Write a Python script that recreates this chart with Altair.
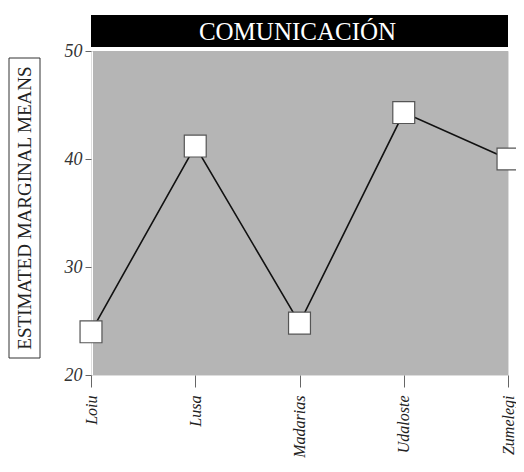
import altair as alt
import pandas as pd

centros = ["Loiu", "Lusa", "Madarias", "Udaloste", "Zumelegi"]
medias = [24.0, 41.2, 24.8, 44.3, 40.0]
titulo = "COMUNICACIÓN"
eje_y = "ESTIMATED MARGINAL MEANS"
y_ticks = [20, 30, 40, 50]

W, H = 417, 324
FONT = "Liberation Serif"

df = pd.DataFrame({"Centro": centros, "Media": medias})

x_enc = alt.X("Centro:N", sort=centros,
              scale=alt.Scale(type="point", padding=0),
              axis=alt.Axis(title=None, labelAngle=270, labelFont=FONT, labelFontStyle="italic",
                            labelFontSize=16, labelColor="#222", domain=False,
                            tickColor="#666", tickSize=12, labelPadding=8, grid=False,
                            labelLimit=200))
y_enc = alt.Y("Media:Q", scale=alt.Scale(domain=[20, 50], nice=False, zero=False),
              axis=alt.Axis(title=None, values=y_ticks, labelFont=FONT, labelFontStyle="italic",
                            labelFontSize=18, labelColor="#333", domain=False, grid=False,
                            tickColor="#666", tickSize=6, labelPadding=3))

one = pd.DataFrame({"t": [titulo]})
bg = alt.Chart(one).mark_rect(color="#b5b5b5").encode(
    x=alt.value(2), x2=alt.value(W), y=alt.value(0), y2=alt.value(H))

base = alt.Chart(df)
line = base.mark_line(color="#111", strokeWidth=1.6).encode(x=x_enc, y=y_enc)
pts = base.mark_point(shape="square", size=480, filled=True, fill="white", stroke="#555",
                      strokeWidth=1.2, opacity=1).encode(x=x_enc, y=y_enc)

bar = alt.Chart(one).mark_rect(color="black").encode(
    x=alt.value(0), x2=alt.value(W), y=alt.value(-36), y2=alt.value(-4))
ttxt = alt.Chart(one).mark_text(font=FONT, fontSize=25, color="white").encode(
    text="t:N", x=alt.value(W / 2 - 2), y=alt.value(-19))

one2 = pd.DataFrame({"t": [eje_y]})
box = alt.Chart(one2).mark_rect(fill="white", stroke="#333", strokeWidth=1).encode(
    x=alt.value(-82), x2=alt.value(-51), y=alt.value(7), y2=alt.value(307))
ytxt = alt.Chart(one2).mark_text(font=FONT, fontSize=19, color="#222", angle=270).encode(
    text="t:N", x=alt.value(-66), y=alt.value(157))

chart = alt.layer(bg, line, pts, bar, ttxt, box, ytxt).properties(
    width=W, height=H,
    autosize=alt.AutoSizeParams(type="none"),
    padding={"left": 83, "top": 43, "right": 8, "bottom": 90},
).configure_view(strokeWidth=0).configure(background="white")

chart.save("out.html", embed_options={"renderer": "svg", "actions": False})
